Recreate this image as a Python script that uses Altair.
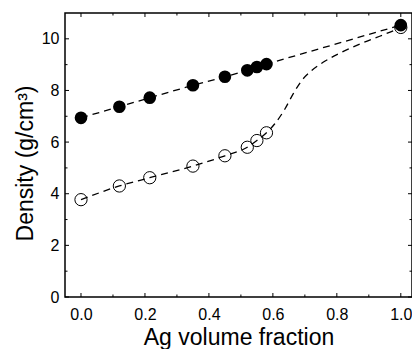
import altair as alt
import pandas as pd

# Filled circles
filled_x = [0.0, 0.12, 0.215, 0.35, 0.45, 0.52, 0.55, 0.58, 1.0]
filled_y = [6.94, 7.37, 7.72, 8.20, 8.53, 8.78, 8.91, 9.02, 10.53]

# Open circles
open_x = [0.0, 0.12, 0.215, 0.35, 0.45, 0.52, 0.55, 0.58, 1.0]
open_y = [3.77, 4.30, 4.62, 5.07, 5.47, 5.80, 6.06, 6.36, 10.44]

# Dashed guide curve through open symbols
curve_x = [0.0, 0.12, 0.215, 0.35, 0.45, 0.52, 0.55, 0.58, 0.606, 0.638, 0.663,
           0.69, 0.72, 0.757, 0.81, 0.872, 0.934, 0.976, 1.0]
curve_y = [3.77, 4.30, 4.62, 5.07, 5.47, 5.80, 6.06, 6.36, 6.71, 7.29, 7.86,
           8.38, 8.76, 9.09, 9.45, 9.80, 10.10, 10.31, 10.44]

x_major = [0.0, 0.2, 0.4, 0.6, 0.8, 1.0]
x_minor = [0.1, 0.3, 0.5, 0.7, 0.9]
y_major = [0, 2, 4, 6, 8, 10]
y_minor = [1, 3, 5, 7, 9]

X_DOM = [-0.05, 1.035]
Y_DOM = [0, 11]
W, H = 347, 284

FONT = "Liberation Sans"

xs = alt.Scale(domain=X_DOM, nice=False, zero=False)
ys = alt.Scale(domain=Y_DOM, nice=False, zero=False)

x_axis = alt.Axis(values=x_major, format=".1f", title="Ag volume fraction",
                  ticks=False, domain=False, grid=False,
                  labelFont=FONT, labelFontSize=16, labelColor="black",
                  labelPadding=9, titleFont=FONT, titleFontSize=23,
                  titleFontWeight="normal", titleColor="black", titlePadding=4.5)
y_axis = alt.Axis(values=y_major, format="d", title="Density (g/cm³)",
                  ticks=False, domain=False, grid=False,
                  labelFont=FONT, labelFontSize=16, labelColor="black",
                  labelPadding=6, titleFont=FONT, titleFontSize=23,
                  titleFontWeight="normal", titleColor="black", titlePadding=4,
                  titleY=150)

df_f = pd.DataFrame({"x": filled_x, "y": filled_y})
df_o = pd.DataFrame({"x": open_x, "y": open_y})
df_c = pd.DataFrame({"x": curve_x, "y": curve_y})

# tick lengths expressed in data units (major ~4px, minor ~2.5px)
ymaj = 4 * (Y_DOM[1] - Y_DOM[0]) / H
ymin = 2.5 * (Y_DOM[1] - Y_DOM[0]) / H
xmaj = 4 * (X_DOM[1] - X_DOM[0]) / W
xmin = 2.5 * (X_DOM[1] - X_DOM[0]) / W

xt = pd.DataFrame({"x": x_major + x_minor,
                   "l": [ymaj] * len(x_major) + [ymin] * len(x_minor)})
xt["y"] = Y_DOM[0]
xt["b1"] = Y_DOM[0] + xt["l"]
xt["t0"] = Y_DOM[1]
xt["t1"] = Y_DOM[1] - xt["l"]

yt = pd.DataFrame({"y": y_major + y_minor,
                   "l": [xmaj] * len(y_major) + [xmin] * len(y_minor)})
yt["x"] = X_DOM[0]
yt["l1"] = X_DOM[0] + yt["l"]
yt["r0"] = X_DOM[1]
yt["r1"] = X_DOM[1] - yt["l"]

dash = [7, 5]


def X(f):
    return alt.X(f, scale=xs, axis=x_axis)


def Y(f):
    return alt.Y(f, scale=ys, axis=y_axis)


line_f = alt.Chart(df_f).mark_line(color="black", strokeDash=dash, strokeWidth=1.3).encode(
    x=X("x:Q"), y=Y("y:Q"))

line_o = alt.Chart(df_c).mark_line(color="black", strokeDash=dash, strokeWidth=1.3,
                                   interpolate="monotone").encode(
    x=X("x:Q"), y=Y("y:Q"))

pts_o = alt.Chart(df_o).mark_point(shape="circle", filled=False, color="black",
                                   size=150, strokeWidth=1, opacity=1).encode(
    x=X("x:Q"), y=Y("y:Q"))

pts_f = alt.Chart(df_f).mark_point(shape="circle", filled=True, color="black",
                                   size=160, opacity=1).encode(
    x=X("x:Q"), y=Y("y:Q"))

tick_style = dict(color="black", strokeWidth=1)

t_bottom = alt.Chart(xt).mark_rule(**tick_style).encode(
    x=X("x:Q"), y=Y("y:Q"), y2="b1:Q")
t_top = alt.Chart(xt).mark_rule(**tick_style).encode(
    x=X("x:Q"), y=Y("t0:Q"), y2="t1:Q")
t_left = alt.Chart(yt).mark_rule(**tick_style).encode(
    y=Y("y:Q"), x=X("x:Q"), x2="l1:Q")
t_right = alt.Chart(yt).mark_rule(**tick_style).encode(
    y=Y("y:Q"), x=X("r0:Q"), x2="r1:Q")

chart = alt.layer(
    line_f, line_o, pts_o, pts_f, t_bottom, t_top, t_left, t_right
).properties(
    width=W, height=H,
    autosize=alt.AutoSizeParams(type="none"),
    padding={"left": 65, "top": 13, "right": 0, "bottom": 52},
    background="white",
).configure_view(
    stroke="black", strokeWidth=1.5
)

chart.save("out.html", embed_options={"renderer": "svg", "actions": False})
